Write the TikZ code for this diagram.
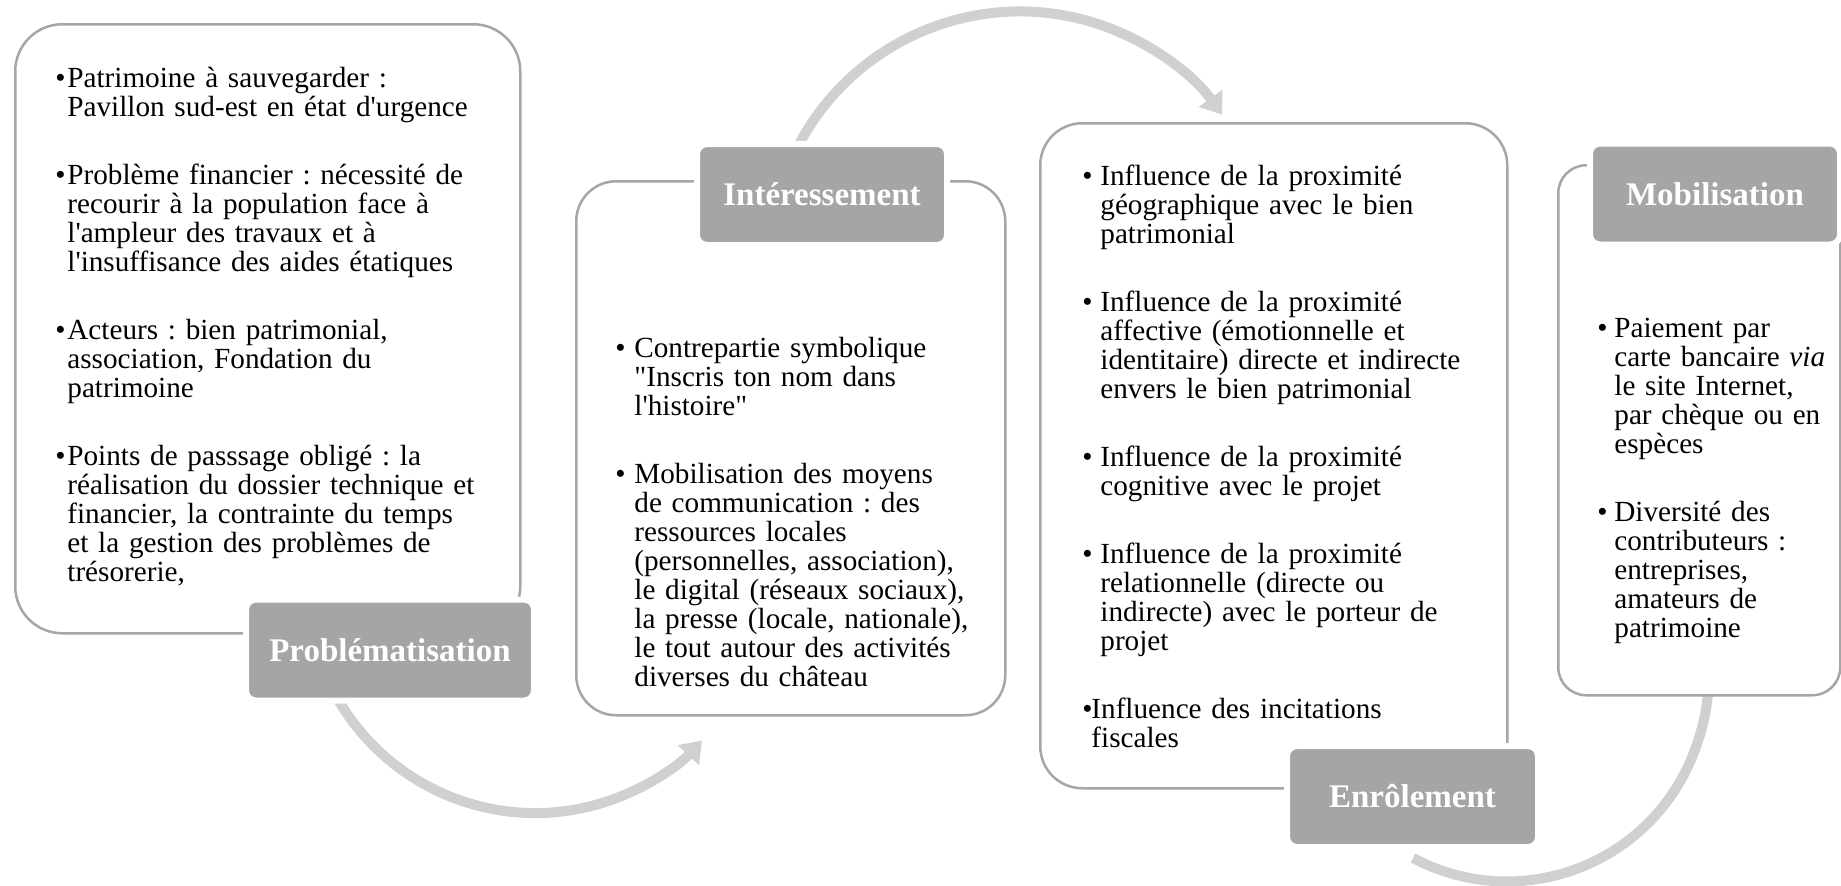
\documentclass[tikz,border=0pt]{standalone}
\usepackage{fontspec}
\setmainfont{Liberation Serif}[Ligatures=TeXOff]
\usetikzlibrary{arrows.meta,positioning}
\definecolor{cadregris}{HTML}{A6A6A6}
\definecolor{etiqgris}{HTML}{A5A5A5}
\definecolor{flechegris}{HTML}{D0D0D0}
\frenchspacing
\newcommand{\puce}[1][9pt]{\par\hangindent=#1\hangafter=1\noindent\makebox[#1][l]{\textbullet}}

\begin{document}
\begin{tikzpicture}[
  x=0.5pt, y=-0.5pt,
  cadre/.style={draw=cadregris, line width=1.25pt, fill=white, anchor=north west, inner sep=0pt},
  etiq/.style={draw=white, line width=3pt, fill=etiqgris, rounded corners=5pt, text=white,
               font=\fontsize{16.5}{19}\selectfont\bfseries, minimum height=50.5pt, inner sep=0pt},
  texte/.style={anchor=north west, inner sep=0pt, align=left, text width=#1,
                font=\fontsize{14.6}{14.5}\selectfont,
                execute at begin node=\setlength{\parskip}{19.5pt}},
  fleche/.style={-{Triangle[width=14pt,length=10pt]}, flechegris, line width=5pt},
]
  \useasboundingbox (0,0) rectangle (1841,885);

  % fleches du cycle
  \coordinate (f1) at (321,663);
  \coordinate (f2) at (785,176);
  \coordinate (f3) at (1413,858);
  \draw[fleche] (f1) arc[start angle=160, end angle=43, radius=228];
  \draw[fleche] (f2) arc[start angle=200, end angle=324, radius=250];
  \draw[fleche] (f3) arc[start angle=118, end angle=-8, radius=200];

  % cadres
  \node[cadre, rounded corners=23.5pt, minimum width=252.5pt, minimum height=304.5pt] (cadreA) at (14,23) {};
  \node[cadre, rounded corners=20pt, minimum width=214.5pt, minimum height=267pt] (cadreB) at (575,180) {};
  \node[cadre, rounded corners=21pt, minimum width=233.5pt, minimum height=332.5pt] (cadreC) at (1039,122) {};
  \node[cadre, rounded corners=14pt, minimum width=141pt, minimum height=265pt] (cadreD) at (1557,164) {};

  % etiquettes
  \node[etiq, minimum width=144pt] (etiqP) at (390,650) {Problématisation};
  \node[etiq, minimum width=125pt] (etiqI) at (822,194.5) {Intéressement};
  \node[etiq, minimum width=125.5pt] (etiqE) at (1412.5,796.5) {Enrôlement};
  \node[etiq, minimum width=125pt] (etiqM) at (1715,194) {Mobilisation};

  % textes
  \node[texte=240pt] (texteA) at (55,19) {%
    \puce[6pt]Patrimoine à sauvegarder :\newline Pavillon sud-est en état d'urgence
    \puce[6pt]Problème financier : nécessité de\newline recourir à la population face à\newline l'ampleur des travaux et à\newline l'insuffisance des aides étatiques
    \puce[6pt]Acteurs : bien patrimonial,\newline association, Fondation du\newline patrimoine
    \puce[6pt]Points de passsage obligé : la\newline réalisation du dossier technique et\newline financier, la contrainte du temps\newline et la gestion des problèmes de\newline trésorerie,\par};
  \node[texte=200pt] (texteB) at (615,289) {%
    \puce[9.5pt]Contrepartie symbolique\newline "Inscris ton nom dans\newline l'histoire"
    \puce[9.5pt]Mobilisation des moyens\newline de communication : des\newline ressources locales\newline (personnelles, association),\newline le digital (réseaux sociaux),\newline la presse (locale, nationale),\newline le tout autour des activités\newline diverses du château\par};
  \node[texte=215pt] (texteC) at (1082,117) {%
    \puce[9pt]Influence de la proximité\newline géographique avec le bien\newline patrimonial
    \puce[9pt]Influence de la proximité\newline affective (émotionnelle et\newline identitaire) directe et indirecte\newline envers le bien patrimonial
    \puce[9pt]Influence de la proximité\newline cognitive avec le projet
    \puce[9pt]Influence de la proximité\newline relationnelle (directe ou\newline indirecte) avec le porteur de\newline projet
    \puce[4.5pt]Influence des incitations\newline fiscales\par};
  \node[texte=118pt] (texteD) at (1597,269) {%
    \puce[8.5pt]Paiement par\newline carte bancaire \textit{via}\newline le site Internet,\newline par chèque ou en\newline espèces
    \puce[8.5pt]Diversité des\newline contributeurs :\newline entreprises,\newline amateurs de\newline patrimoine\par};
\end{tikzpicture}
\end{document}
